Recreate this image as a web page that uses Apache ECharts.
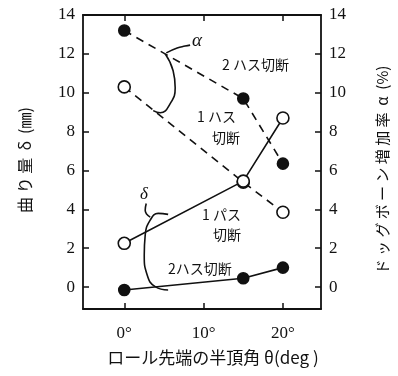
<!DOCTYPE html>
<html>
<head>
<meta charset="utf-8">
<script src="https://cdn.jsdelivr.net/npm/echarts@6/dist/echarts.min.js"></script>
<style>
  html, body { margin: 0; padding: 0; background: #fff; }
  #chart { width: 398px; height: 376px; }
</style>
</head>
<body>
<div id="chart"></div>
<script>
// half vertex angle of the roll tip (deg)
const angles = [0, 15, 20]
const tickAngles = [0, 10, 20]
const tickValues = [0, 2, 4, 6, 8, 10, 12, 14]

// dog-bone increase rate alpha (%)
const alpha2Pass = [13.2, 9.7, 6.35]
const alpha1Pass = [10.3, 5.4, 3.85]
// bending delta (mm)
const delta1Pass = [2.25, 5.45, 8.7]
const delta2Pass = [-0.15, 0.45, 1.0]

// hand drawn braces (data coords)
const alphaBrace = [[3.65, 9.08], [4.53, 8.97], [5.79, 9.44], [6.42, 10.26], [6.16, 11.13], [5.16, 12.0]]
const alphaHook = [[5.3, 12.05], [6.67, 12.3], [7.67, 12.4], [8.3, 12.45]]
const deltaBrace = [[5.53, 3.74], [4.28, 3.79], [3.27, 3.44], [2.64, 2.67], [2.52, 1.64], [2.89, 0.62], [3.9, 0.02], [5.53, -0.15]]
const deltaStem = [[2.77, 4.3], [2.64, 3.95], [3.27, 3.6]]

const serif = 'Liberation Serif'
const cjk = 'Noto Sans CJK JP'

const pairs = vals => angles.map((a, i) => [a, vals[i]])

const chart = echarts.init(document.getElementById('chart'))

function lineSeries(data, dashed, filled, yIndex) {
  return {
    type: 'line',
    yAxisIndex: yIndex,
    data: data,
    symbol: 'circle',
    symbolSize: filled ? 11 : 12,
    lineStyle: { color: '#111', width: 1.6, type: dashed ? [8, 6] : 'solid' },
    itemStyle: {
      color: filled ? '#111' : '#fff',
      borderColor: '#111',
      borderWidth: 1.6
    },
    z: filled ? 3 : 4,
    animation: false
  }
}

function curve(data) {
  return {
    type: 'line',
    data: data,
    smooth: true,
    symbol: 'none',
    lineStyle: { color: '#111', width: 1.6 },
    silent: true,
    animation: false
  }
}

const lineStyle = { color: '#111', width: 1.8 }
const tickStyle = { color: '#111', width: 1.5 }

const axisCommon = {
  type: 'value',
  min: -1.13,
  max: 14,
  splitLine: { show: false },
  axisLine: { show: true, onZero: false, lineStyle },
  axisTick: { show: true, inside: true, length: 6, customValues: tickValues, lineStyle: tickStyle },
  axisLabel: { customValues: tickValues, color: '#111', fontSize: 17, fontFamily: serif, margin: 8 }
}

const xCommon = {
  type: 'value',
  min: -5.2,
  max: 24.8,
  splitLine: { show: false },
  axisLine: { show: true, onZero: false, lineStyle },
  axisTick: { show: true, inside: true, length: 6, customValues: tickAngles, lineStyle: tickStyle }
}

const option = {
  backgroundColor: '#fff',
  grid: { left: 83, right: 77, top: 15, bottom: 67 },
  xAxis: [Object.assign({}, xCommon, {
    axisLabel: { customValues: tickAngles, formatter: '{value}°', color: '#111', fontSize: 17, fontFamily: serif, margin: 16 },
    name: 'ロール先端の半頂角 θ(deg )',
    nameLocation: 'middle',
    nameGap: 40,
    nameTextStyle: { color: '#111', fontSize: 17, fontFamily: cjk, padding: [0, 0, 0, 22] }
  }), Object.assign({}, xCommon, {
    position: 'top',
    axisLabel: { show: false }
  })],
  yAxis: [Object.assign({}, axisCommon, { position: 'left' }),
    Object.assign({}, axisCommon, { position: 'right' })],
  series: [
    lineSeries(pairs(alpha2Pass), true, true, 1),
    lineSeries(pairs(alpha1Pass), true, false, 1),
    lineSeries(pairs(delta1Pass), false, false, 0),
    lineSeries(pairs(delta2Pass), false, true, 0),
    curve(alphaBrace),
    curve(alphaHook),
    curve(deltaBrace),
    curve(deltaStem)
  ],
  graphic: [
    // axis titles
    { type: 'text', x: 25, y: 160, rotation: Math.PI / 2,
      style: { text: '曲 り 量  δ  (㎜)', fontSize: 16, fontFamily: cjk, fill: '#111', align: 'center', verticalAlign: 'middle' } },
    { type: 'text', x: 382, y: 170, rotation: Math.PI / 2,
      style: { text: 'ド ッ グ ボ ー ン 増 加 率  α  (%)', fontSize: 15, fontFamily: cjk, fill: '#111', align: 'center', verticalAlign: 'middle' } },
    // annotations
    { type: 'text', left: 192, top: 31, style: { text: 'α', fontSize: 19, fontStyle: 'italic', fontFamily: serif, fill: '#111' } },
    { type: 'text', left: 222, top: 58, style: { text: '2 ハス切断', fontSize: 14, fontFamily: cjk, fill: '#111' } },
    { type: 'text', left: 197, top: 110, style: { text: '1 ハス', fontSize: 14, fontFamily: cjk, fill: '#111' } },
    { type: 'text', left: 212, top: 131, style: { text: '切断', fontSize: 14, fontFamily: cjk, fill: '#111' } },
    { type: 'text', left: 140, top: 186, style: { text: 'δ', fontSize: 17, fontStyle: 'italic', fontFamily: serif, fill: '#111' } },
    { type: 'text', left: 202, top: 208, style: { text: '1 パス', fontSize: 14, fontFamily: cjk, fill: '#111' } },
    { type: 'text', left: 213, top: 228, style: { text: '切断', fontSize: 14, fontFamily: cjk, fill: '#111' } },
    { type: 'text', left: 168, top: 262, style: { text: '2ハス切断', fontSize: 14, fontFamily: cjk, fill: '#111' } }
  ]
}

chart.setOption(option)
</script>
</body>
</html>
